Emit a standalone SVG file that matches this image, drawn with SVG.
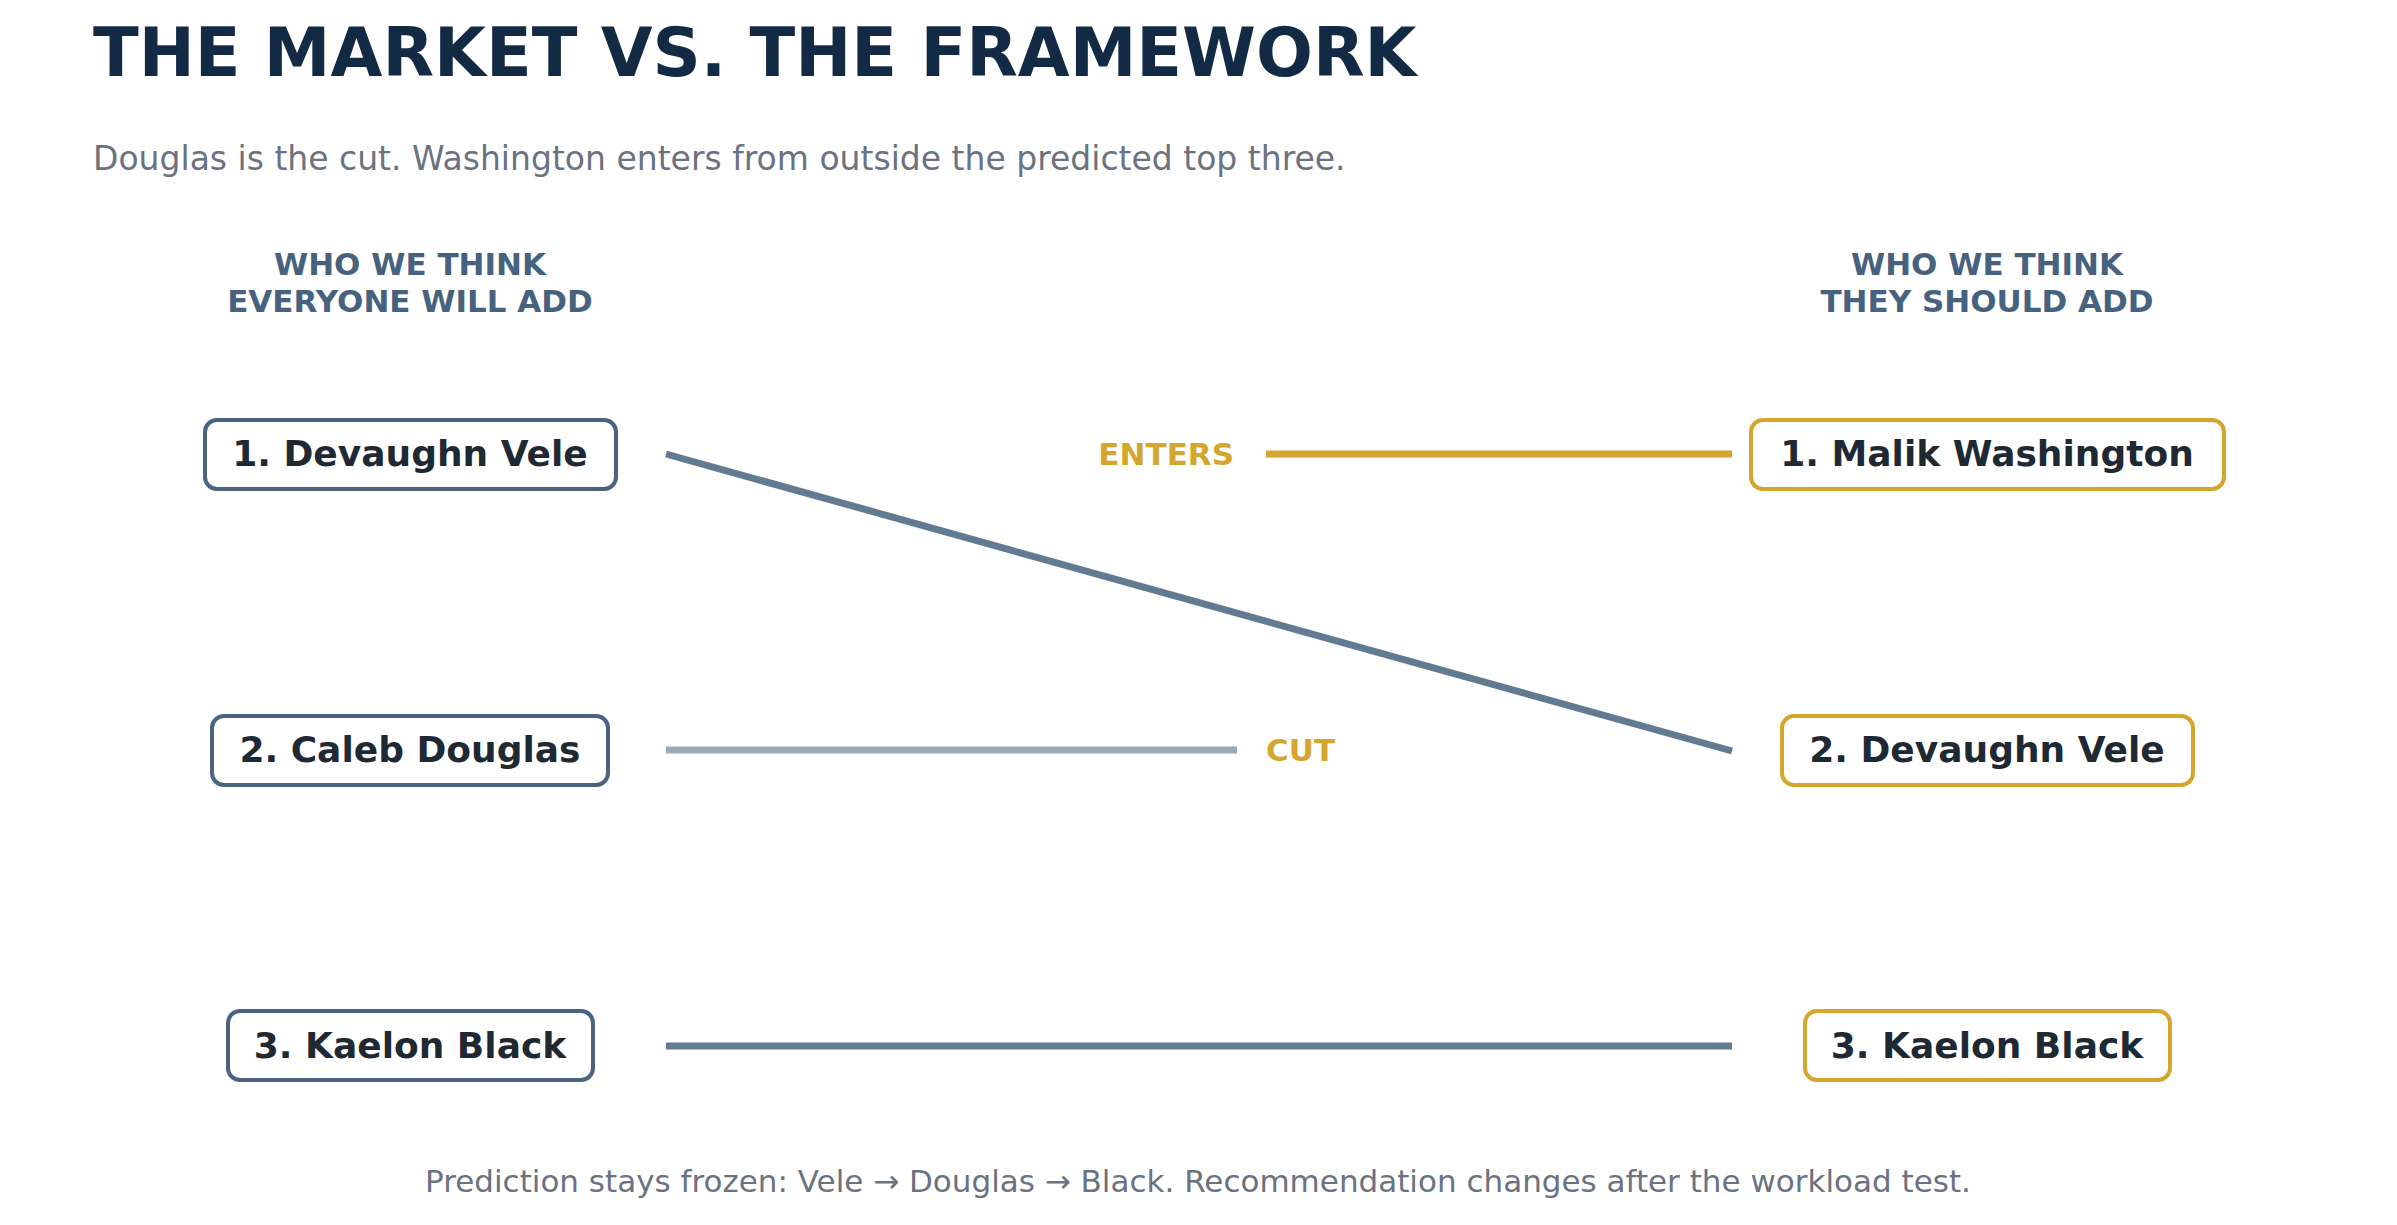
<svg xmlns="http://www.w3.org/2000/svg" width="2397" height="1225" viewBox="0 0 2397 1225">
<style>
text{font-family:"DejaVu Sans","Noto Sans",sans-serif}
.t{font-size:67px;font-weight:bold;fill:#132a45}
.s{font-size:33px;fill:#6b7280}
.h{font-size:31px;font-weight:bold;fill:#46627f;text-anchor:middle}
.nl rect{fill:#fff;stroke:#4a6380;stroke-width:4}
.nr rect{fill:#fff;stroke:#d4a62d;stroke-width:4}
.n text{font-size:36px;font-weight:bold;fill:#1f2933;text-anchor:middle}
.lab{font-size:31px;font-weight:bold;fill:#d4a62d}
.f{font-size:31px;fill:#6b7280;text-anchor:middle}
</style>
<rect width="2397" height="1225" fill="#fff"/>
<text class="t" x="93" y="76">THE MARKET VS. THE FRAMEWORK</text>
<text class="s" x="93" y="170">Douglas is the cut. Washington enters from outside the predicted top three.</text>
<text class="h" x="410" y="275">WHO WE THINK</text>
<text class="h" x="410" y="312">EVERYONE WILL ADD</text>
<text class="h" x="1987" y="275">WHO WE THINK</text>
<text class="h" x="1987" y="312">THEY SHOULD ADD</text>
<g id="connectors" stroke-width="7" fill="none">
<line x1="666" y1="454" x2="1732" y2="751" stroke="#637a93"/>
<line x1="666" y1="750" x2="1237" y2="750" stroke="#9aabb8"/>
<line x1="1266" y1="454" x2="1732" y2="454" stroke="#d4a62d"/>
<line x1="666" y1="1046" x2="1732" y2="1046" stroke="#637a93"/>
<text class="lab" x="1234" y="465" text-anchor="end" stroke="none">ENTERS</text>
<text class="lab" x="1266" y="761" stroke="none">CUT</text>
</g>
<g id="l1" class="n nl"><rect x="205" y="420" width="411" height="69" rx="12"/><text x="410" y="466">1. Devaughn Vele</text></g>
<g id="l2" class="n nl"><rect x="212" y="716" width="396" height="69" rx="12"/><text x="410" y="762">2. Caleb Douglas</text></g>
<g id="l3" class="n nl"><rect x="228" y="1011" width="365" height="69" rx="12"/><text x="410" y="1058">3. Kaelon Black</text></g>
<g id="r1" class="n nr"><rect x="1751" y="420" width="473" height="69" rx="12"/><text x="1987" y="466">1. Malik Washington</text></g>
<g id="r2" class="n nr"><rect x="1782" y="716" width="411" height="69" rx="12"/><text x="1987" y="762">2. Devaughn Vele</text></g>
<g id="r3" class="n nr"><rect x="1805" y="1011" width="365" height="69" rx="12"/><text x="1987" y="1058">3. Kaelon Black</text></g>
<text class="f" x="1198" y="1192">Prediction stays frozen: Vele → Douglas → Black. Recommendation changes after the workload test.</text>
</svg>
